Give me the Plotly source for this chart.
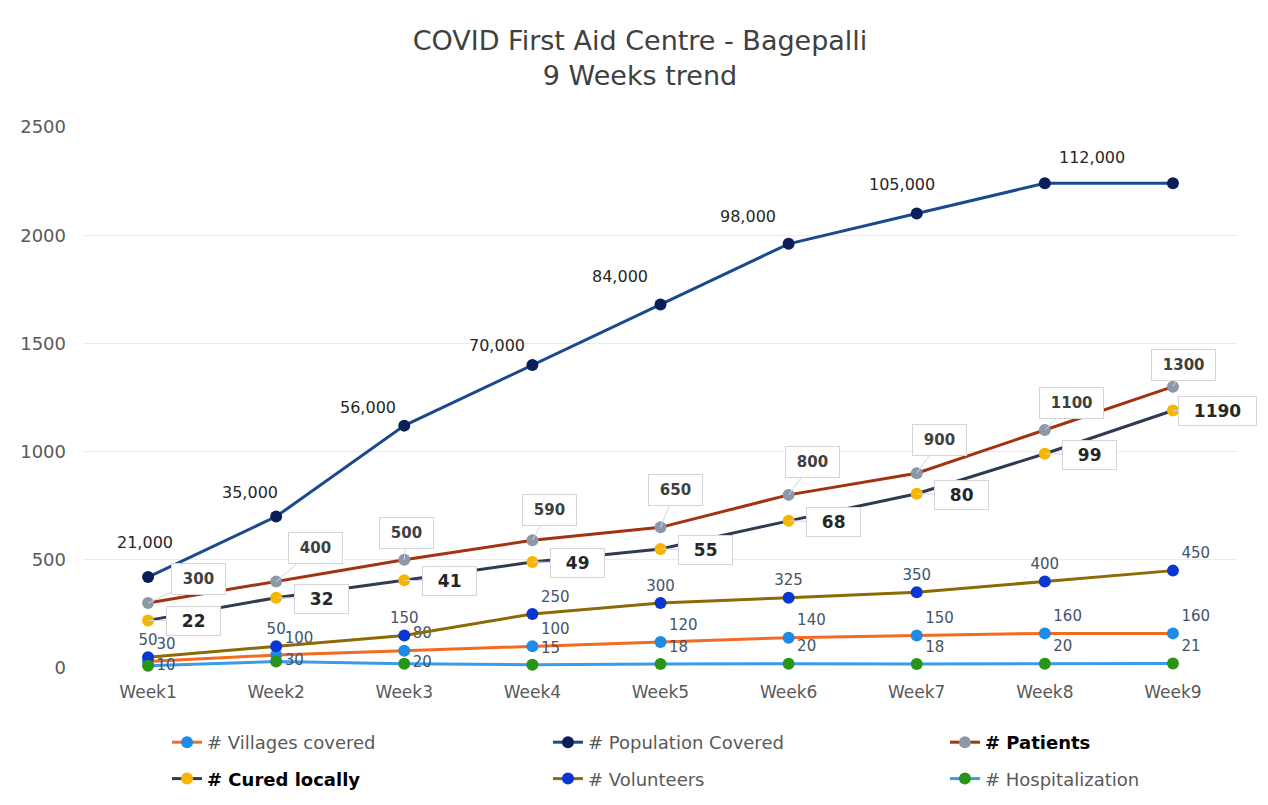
import plotly.graph_objects as go

weeks = ["Week1", "Week2", "Week3", "Week4", "Week5", "Week6", "Week7", "Week8", "Week9"]

# plotted values and the data-label texts shown
villages = [30, 60, 80, 100, 120, 140, 150, 160, 160]
villages_lbl = ["30", "100", "80", "100", "120", "140", "150", "160", "160"]

population = [420, 700, 1120, 1400, 1680, 1960, 2100, 2240, 2240]
population_lbl = ["21,000", "35,000", "56,000", "70,000", "84,000", "98,000", "105,000", "112,000", ""]

patients = [300, 400, 500, 590, 650, 800, 900, 1100, 1300]
patients_lbl = ["300", "400", "500", "590", "650", "800", "900", "1100", "1300"]

cured = [220, 325, 405, 490, 550, 680, 805, 990, 1190]
cured_lbl = ["22", "32", "41", "49", "55", "68", "80", "99", "1190"]

volunteers = [50, 100, 150, 250, 300, 325, 350, 400, 450]
volunteers_lbl = ["50", "50", "150", "250", "300", "325", "350", "400", "450"]

hospital = [10, 30, 20, 15, 18, 20, 18, 20, 21]
hospital_lbl = ["10", "30", "20", "15", "18", "20", "18", "20", "21"]

y_ticks = [0, 500, 1000, 1500, 2000, 2500]

FONT = "DejaVu Sans"
GRAY = "#595959"
LBL = "#44546A"

fig = go.Figure()

def add(name, y, line_color, marker_color, legend, group, text=None, textpos=None):
    fig.add_trace(go.Scatter(
        x=weeks, y=y, name=name, mode="lines+markers" + ("+text" if text else ""),
        line=dict(color=line_color, width=3),
        marker=dict(color=marker_color, size=12),
        text=text, textposition=textpos,
        textfont=dict(family=FONT, size=15, color=LBL),
        legend=legend, legendgroup=group, cliponaxis=False,
    ))

vill_pos = ["top right"] * 9
vol_pos = ["top center", "top center", "top center", "top right"] + ["top center"] * 4 + ["top right"]
hosp_pos = ["middle right", "middle right", "middle right"] + ["top right"] * 6

add("<span style='color:#595959'># Villages covered</span>", villages, "#F26B21", "#1E8CE6",
    "legend", "a", villages_lbl, vill_pos)
add("<span style='color:#595959'># Population Covered</span>", population, "#1B4A8C", "#0B1E5A",
    "legend2", "b")
add("<b># Patients</b>", patients, "#A3320F", "#8A98A8", "legend3", "c")
add("<b># Cured locally</b>", cured, "#2E3B52", "#F7B500", "legend", "d")
add("<span style='color:#595959'># Volunteers</span>", volunteers, "#8C6A06", "#0A36D2",
    "legend2", "e", volunteers_lbl, vol_pos)
add("<span style='color:#595959'># Hospitalization</span>", hospital, "#3A9BEA", "#2A9418",
    "legend3", "f", hospital_lbl, hosp_pos)

annotations = []
# label offsets (pixels) as placed in the original chart
pop_dx = [-3, -26, -36, -35, -41, -41, -15, 47, 0]
pop_dy = [35, 24, 18, 20, 28, 27, 29, 26, 0]
for w, v, t, xs, ys in zip(weeks, population, population_lbl, pop_dx, pop_dy):
    if t:
        annotations.append(dict(x=w, y=v, text=t, showarrow=False, xref="x", yref="y",
                                yshift=ys, xshift=xs,
                                font=dict(family=FONT, size=16, color="#262626")))
PAD = "&nbsp;"
pat_ax = [50, 39, 2, 17, 15, 24, 23, 27, 11]
pat_ay = [-24, -33, -27, -30, -37, -33, -33, -27, -22]
for w, v, t, ax, ay in zip(weeks, patients, patients_lbl, pat_ax, pat_ay):
    annotations.append(dict(x=w, y=v, text=PAD + "<b>" + t + "</b>" + PAD, xref="x", yref="y",
                            showarrow=True, arrowhead=0, arrowwidth=1, arrowcolor="#C9D6E8",
                            ax=ax, ay=ay, bgcolor="white", bordercolor="#D5D5D5",
                            borderwidth=1, borderpad=6,
                            font=dict(family=FONT, size=15, color="#404040")))
for w, v, t in zip(weeks, cured, cured_lbl):
    annotations.append(dict(x=w, y=v, text=PAD * 2 + "<b>" + t + "</b>" + PAD * 2,
                            xref="x", yref="y",
                            showarrow=True, arrowhead=0, arrowwidth=1, arrowcolor="#C9D6E8",
                            ax=45, ay=1, bgcolor="white", bordercolor="#D5D5D5",
                            borderwidth=1, borderpad=4,
                            font=dict(family=FONT, size=17, color="#262626")))

leg_common = dict(orientation="v", yanchor="top", y=-0.1035, xanchor="left",
                  tracegroupgap=10, bgcolor="rgba(0,0,0,0)",
                  font=dict(family=FONT, size=18, color="#000000"))

# the page body adds an 8px offset, so the figure is 8px smaller on each axis
fig.update_layout(
    width=1260, height=797,
    paper_bgcolor="white", plot_bgcolor="white",
    margin=dict(l=76, r=31, t=119, b=137, autoexpand=False),
    title=dict(text="COVID First Aid Centre - Bagepalli<br>9 Weeks trend",
               x=0.5016, xanchor="center", y=0.947, yanchor="top",
               font=dict(family=FONT, size=27, color="#404040")),
    font=dict(family=FONT, color=GRAY),
    xaxis=dict(type="category", range=[-0.5, 8.5], showgrid=False, zeroline=False,
               showline=False, ticks="", tickfont=dict(family=FONT, size=17, color=GRAY),
               ticklabelstandoff=12),
    yaxis=dict(range=[0, 2500], tickvals=y_ticks, showgrid=True, gridcolor="#EBEBEB",
               gridwidth=1, zeroline=False, showline=False, ticks="",
               tickfont=dict(family=FONT, size=18, color=GRAY), ticklabelstandoff=17),
    legend=dict(x=0.072, **leg_common),
    legend2=dict(x=0.4024, **leg_common),
    legend3=dict(x=0.7467, **leg_common),
    annotations=annotations,
    showlegend=True,
)

fig.write_html("out.html")
